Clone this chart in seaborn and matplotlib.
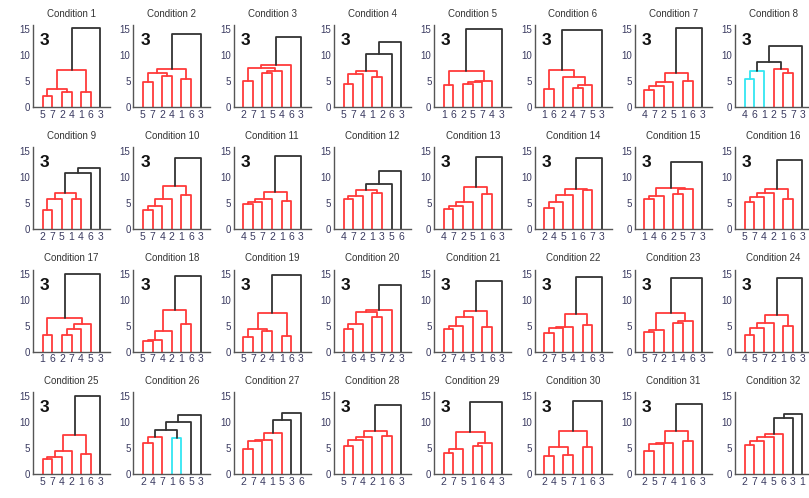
import numpy as np
import pandas as pd
import seaborn as sns
import matplotlib.pyplot as plt

# leaf order shown under each dendrogram (one string per condition)
leaf_orders = [
    "5724163", "5724163", "2715463", "5741263", "1625743", "1624753", "4725163", "4612573",
    "2751463", "5742163", "4572163", "4721356", "4725163", "2451673", "1462573", "5742163",
    "1627453", "5742163", "5724163", "1645723", "2745163", "2754163", "5721463", "4572163",
    "5742163", "2471653", "2741536", "5742163", "2751643", "2457163", "2574163", "2745631",
]

# linkage rows (a, b, height); ids 1-7 are observations, 8+ are earlier merges
merges = [
    [(5, 7, 2.2), (2, 4, 2.9), (1, 6, 2.9), (8, 9, 3.4), (11, 10, 7.1), (12, 3, 15.2)],
    [(5, 7, 4.9), (2, 4, 5.9), (1, 6, 5.3), (8, 9, 6.6), (11, 10, 7.4), (12, 3, 14.1)],
    [(2, 7, 5.1), (1, 5, 6.6), (9, 4, 7.0), (8, 10, 7.5), (11, 6, 8.0), (12, 3, 13.4)],
    [(5, 7, 4.5), (8, 4, 6.3), (1, 2, 5.8), (9, 10, 6.9), (11, 6, 10.2), (12, 3, 12.6)],
    [(1, 6, 4.2), (2, 5, 4.5), (9, 7, 4.8), (10, 4, 5.1), (8, 11, 6.9), (12, 3, 15.0)],
    [(1, 6, 3.4), (4, 7, 3.7), (9, 5, 4.2), (2, 10, 5.7), (8, 11, 7.2), (12, 3, 14.8)],
    [(4, 7, 3.2), (8, 2, 4.0), (9, 5, 4.8), (1, 6, 5.0), (10, 11, 6.6), (12, 3, 15.3)],
    [(4, 6, 5.3), (8, 1, 7.0), (5, 7, 6.5), (2, 10, 7.4), (9, 11, 8.6), (12, 3, 11.7)],
    [(2, 7, 3.7), (8, 5, 5.8), (1, 4, 5.8), (9, 10, 6.9), (11, 6, 10.8), (12, 3, 11.9)],
    [(5, 7, 3.7), (8, 4, 4.4), (9, 2, 5.8), (1, 6, 6.6), (10, 11, 8.3), (12, 3, 13.7)],
    [(4, 5, 4.8), (8, 7, 5.2), (9, 2, 5.9), (1, 6, 5.5), (10, 11, 7.2), (12, 3, 14.2)],
    [(4, 7, 5.9), (8, 2, 6.5), (1, 3, 7.0), (9, 10, 7.5), (11, 5, 8.8), (12, 6, 11.3)],
    [(4, 7, 4.0), (8, 2, 4.4), (9, 5, 5.3), (1, 6, 6.8), (10, 11, 8.1), (12, 3, 13.9)],
    [(2, 4, 4.2), (8, 5, 5.3), (9, 1, 6.6), (6, 7, 7.5), (10, 11, 7.7), (12, 3, 13.7)],
    [(1, 4, 5.9), (8, 6, 6.5), (2, 5, 6.8), (10, 7, 7.7), (9, 11, 7.9), (12, 3, 13.0)],
    [(5, 7, 5.3), (8, 4, 6.3), (9, 2, 6.9), (1, 6, 5.8), (10, 11, 7.7), (12, 3, 13.4)],
    [(1, 6, 3.2), (2, 7, 3.2), (9, 4, 4.4), (10, 5, 5.3), (8, 11, 6.5), (12, 3, 15.0)],
    [(5, 7, 2.1), (8, 4, 2.3), (9, 2, 4.0), (1, 6, 5.4), (10, 11, 8.0), (12, 3, 14.6)],
    [(5, 7, 2.8), (2, 4, 4.0), (8, 9, 4.3), (1, 6, 3.0), (10, 11, 7.5), (12, 3, 14.7)],
    [(1, 6, 4.3), (8, 4, 5.4), (5, 7, 6.7), (9, 10, 7.6), (11, 2, 8.1), (12, 3, 12.9)],
    [(2, 7, 4.4), (8, 4, 4.9), (9, 5, 6.7), (1, 6, 4.7), (10, 11, 7.8), (12, 3, 13.6)],
    [(2, 7, 3.5), (8, 5, 4.6), (9, 4, 4.8), (1, 6, 5.1), (10, 11, 7.3), (12, 3, 14.4)],
    [(5, 7, 3.8), (8, 2, 4.1), (1, 4, 5.6), (10, 6, 5.9), (9, 11, 7.4), (12, 3, 14.1)],
    [(4, 5, 3.2), (8, 7, 4.6), (9, 2, 5.6), (1, 6, 4.9), (10, 11, 7.1), (12, 3, 14.2)],
    [(5, 7, 2.8), (8, 4, 3.2), (9, 2, 4.5), (1, 6, 3.9), (10, 11, 7.4), (12, 3, 15.0)],
    [(2, 4, 5.9), (8, 7, 7.1), (1, 6, 6.9), (9, 10, 8.4), (11, 5, 10.0), (12, 3, 11.3)],
    [(2, 7, 4.8), (8, 4, 6.3), (9, 1, 6.6), (10, 5, 7.8), (11, 3, 10.4), (12, 6, 11.7)],
    [(5, 7, 5.4), (8, 4, 6.6), (9, 2, 7.1), (1, 6, 7.3), (10, 11, 8.2), (12, 3, 13.2)],
    [(2, 7, 4.0), (8, 5, 4.8), (1, 6, 5.4), (10, 4, 6.0), (9, 11, 8.1), (12, 3, 13.9)],
    [(2, 4, 3.4), (5, 7, 3.7), (8, 9, 5.1), (1, 6, 5.2), (10, 11, 8.2), (12, 3, 14.1)],
    [(2, 5, 4.5), (8, 7, 5.8), (9, 4, 6.0), (1, 6, 6.3), (10, 11, 8.2), (12, 3, 13.5)],
    [(2, 7, 5.6), (8, 4, 6.3), (9, 5, 7.1), (10, 6, 7.7), (11, 3, 10.8), (12, 1, 11.6)],
]

k_labels = ["3"] * 11 + [""] + ["3"] * 13 + ["", ""] + ["3"] * 4 + [""]

pal = {"r": "#ff3a3a", "c": "#33e6f2", "k": "#333333"}
group_cols = "rcgm"


def build_segments(leaves, links):
    n = len(leaves)
    xpos = {int(c): i + 1 for i, c in enumerate(leaves)}
    hgt = {int(c): 0.0 for c in leaves}
    node_h = {n + 1 + k: h for k, (a, b, h) in enumerate(links)}
    parent = {}
    for k, (a, b, h) in enumerate(links):
        parent[a] = n + 1 + k
        parent[b] = n + 1 + k
    cut = 0.7 * max(node_h.values())
    roots = [nd for nd, h in node_h.items()
             if h < cut and node_h.get(parent.get(nd), np.inf) >= cut]
    roots.sort(key=lambda nd: -node_h[nd])
    colour = {}
    for k in reversed(range(len(links))):
        nd = n + 1 + k
        if nd in roots:
            colour[nd] = group_cols[roots.index(nd)]
        elif node_h[nd] >= cut:
            colour[nd] = "k"
        else:
            colour[nd] = colour[parent[nd]]
    rows = []
    for k, (a, b, h) in enumerate(links):
        nd = n + 1 + k
        xpos[nd] = (xpos[a] + xpos[b]) / 2
        hgt[nd] = h
        for x, y in [(xpos[a], hgt[a]), (xpos[a], h), (xpos[b], h), (xpos[b], hgt[b])]:
            rows.append(dict(link=k, x=x, y=y, colour=colour[nd]))
    return pd.DataFrame(rows)


sns.set_theme(style="white")
plt.rcParams["font.family"] = ["Liberation Sans", "DejaVu Sans"]

fig = plt.figure(figsize=(8.09, 4.98), dpi=100)
W, H = 809, 498

for i in range(32):
    r, c = divmod(i, 8)
    left = 33 + c * 100.3
    bottom = 107 + r * 122.3
    ax = fig.add_axes([left / W, 1 - bottom / H, 77 / W, 82 / H])
    df = build_segments(leaf_orders[i], merges[i])
    sns.lineplot(data=df, x="x", y="y", units="link", estimator=None, sort=False,
                 hue="colour", palette=pal, legend=False, linewidth=1.3, ax=ax)
    ax.set_xlim(0, 8)
    ax.set_ylim(0, 15.8)
    ax.set_xticks(range(1, 8), labels=list(leaf_orders[i]))
    ax.set_yticks([0, 5, 10, 15])
    ax.set_xlabel("")
    ax.set_ylabel("")
    ax.tick_params(direction="in", length=2, width=0.8, labelsize=7, pad=2,
                   labelcolor="#3a3a60", color="#444444")
    ax.tick_params(axis="x", labelsize=7.5)
    for s in ["top", "right"]:
        ax.spines[s].set_visible(False)
    for s in ["left", "bottom"]:
        ax.spines[s].set_color("#555555")
        ax.spines[s].set_linewidth(1.0)
    ax.set_title(f"Condition {i + 1}", fontsize=7, pad=6, color="#333333")
    if k_labels[i]:
        ax.text(0.09, 0.81, k_labels[i], transform=ax.transAxes, fontsize=12.5,
                fontweight="bold", va="center", ha="left", color="#111111")

fig.savefig("out.png", dpi=100)
